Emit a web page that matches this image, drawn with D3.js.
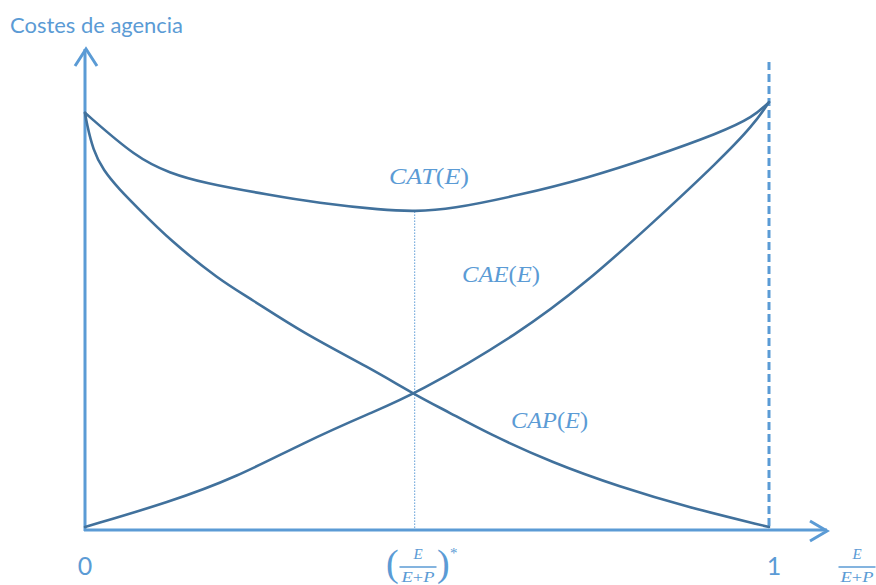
<!DOCTYPE html>
<html><head><meta charset="utf-8">
<script src="https://cdn.jsdelivr.net/npm/d3@7"></script>
<style>html,body{margin:0;padding:0;background:#fff;}svg{display:block;}</style>
</head><body>
<svg id="c" width="876" height="585"></svg>
<script>
// Data (x = E/(E+P), y = cost, arbitrary units 0..100)
const catX = [0, 0.0756, 0.124, 0.1725, 0.270, 0.339, 0.436, 0.482, 0.534, 0.636, 0.734, 0.830, 0.928, 0.977, 1.0];
const catY = [97.0, 86.4, 82.9, 80.6, 77.75, 75.9, 74.2, 73.9, 74.4, 77.75, 81.7, 86.65, 92.3, 96.0, 99.5];
const capX = [0, 0.0024, 0.0117, 0.0263, 0.0512, 0.076, 0.124, 0.197, 0.241, 0.319, 0.417, 0.482, 0.534, 0.588, 0.684, 0.782, 0.880, 1.0];
const capY = [97.0, 94.6, 88.3, 83.6, 78.9, 74.9, 67.2, 57.8, 53.6, 45.4, 37.2, 31.0, 26.7, 22.0, 15.0, 9.4, 4.7, 0];
const caeX = [0, 0.124, 0.222, 0.319, 0.417, 0.482, 0.636, 0.734, 0.830, 0.928, 0.977, 1.0];
const caeY = [0, 5.85, 11.7, 19.7, 26.7, 31.0, 45.4, 57.4, 71.2, 85.9, 94.1, 99.5];
const optimumX = 0.482;
const optimumCAT = 73.9;
const curveNames = ["CAT", "CAE", "CAP"];
const xTickLabels = ["0", "1"];
const yAxisTitle = "Costes de agencia";

const svg = d3.select("#c");
const x = d3.scaleLinear().domain([0, 1]).range([85, 769]);
const y = d3.scaleLinear().domain([0, 100]).range([527, 100]);
const axisColor = "#5b9bd5";
const curveColor = "#41719c";
const mathFont = "'Liberation Serif', 'DejaVu Serif', serif";
const textFont = "Lato, 'Open Sans', sans-serif";

// Axes
svg.append("line").attr("x1", 85).attr("y1", 531).attr("x2", 85).attr("y2", 49)
  .attr("stroke", axisColor).attr("stroke-width", 3);
svg.append("polyline").attr("points", "75,66 86,49 97,66")
  .attr("fill", "none").attr("stroke", axisColor).attr("stroke-width", 3).attr("stroke-linejoin", "miter");
svg.append("line").attr("x1", 84).attr("y1", 530).attr("x2", 827).attr("y2", 530)
  .attr("stroke", axisColor).attr("stroke-width", 3);
svg.append("polyline").attr("points", "810,521 827,531 810,541")
  .attr("fill", "none").attr("stroke", axisColor).attr("stroke-width", 3);

// Dashed vertical at x=1
svg.append("line").attr("x1", x(1)).attr("x2", x(1)).attr("y1", 62).attr("y2", 530)
  .attr("stroke", axisColor).attr("stroke-width", 3).attr("stroke-dasharray", "8,4");

// Dotted optimum line
svg.append("line").attr("x1", x(optimumX)).attr("x2", x(optimumX))
  .attr("y1", y(optimumCAT)).attr("y2", 529)
  .attr("stroke", axisColor).attr("stroke-width", 1).attr("stroke-dasharray", "1.5,1.5");

// Curves
const line = d3.line().x(d => x(d[0])).y(d => y(d[1])).curve(d3.curveBasis);
const series = [d3.zip(catX, catY), d3.zip(caeX, caeY), d3.zip(capX, capY)];
series.forEach(s => {
  svg.append("path").attr("d", line(s)).attr("fill", "none")
    .attr("stroke", curveColor).attr("stroke-width", 2.6).attr("stroke-linecap", "round");
});

// Y axis title
svg.append("text").attr("x", 10).attr("y", 33).text(yAxisTitle)
  .attr("font-family", textFont).attr("font-size", 21).attr("fill", axisColor)
  .attr("textLength", 173).attr("lengthAdjust", "spacingAndGlyphs");

// Tick labels 0 and 1
svg.append("text").attr("x", x(0)).attr("y", 575).attr("text-anchor", "middle").text(xTickLabels[0])
  .attr("font-family", textFont).attr("font-size", 25).attr("fill", axisColor);
svg.append("text").attr("x", 774).attr("y", 575).attr("text-anchor", "middle").text(xTickLabels[1])
  .attr("font-family", textFont).attr("font-size", 25).attr("fill", axisColor);

// Curve labels
function mathLabel(name, lx, ly, w) {
  const t = svg.append("text").attr("x", lx).attr("y", ly)
    .attr("font-family", mathFont).attr("font-size", 23).attr("fill", axisColor)
    .attr("textLength", w).attr("lengthAdjust", "spacingAndGlyphs");
  t.append("tspan").attr("font-style", "italic").text(name);
  t.append("tspan").text("(");
  t.append("tspan").attr("font-style", "italic").text("E");
  t.append("tspan").text(")");
}
mathLabel(curveNames[0], 389, 184, 80);
mathLabel(curveNames[1], 462, 282, 78);
mathLabel(curveNames[2], 511, 428, 77);

// Fraction E/(E+P) helper
function fraction(cx, barY, w, fs) {
  svg.append("text").attr("x", cx).attr("y", barY - 8).attr("text-anchor", "middle")
    .attr("font-family", mathFont).attr("font-style", "italic").attr("font-size", fs)
    .attr("fill", axisColor).text("E");
  svg.append("line").attr("x1", cx - w / 2).attr("x2", cx + w / 2).attr("y1", barY).attr("y2", barY)
    .attr("stroke", axisColor).attr("stroke-width", 1.5);
  const d = svg.append("text").attr("x", cx).attr("y", barY + 15).attr("text-anchor", "middle")
    .attr("font-family", mathFont).attr("font-size", fs).attr("fill", axisColor)
    .attr("textLength", w - 4).attr("lengthAdjust", "spacingAndGlyphs");
  d.append("tspan").attr("font-style", "italic").text("E");
  d.append("tspan").text("+");
  d.append("tspan").attr("font-style", "italic").text("P");
}
// Optimum label
fraction(418, 567, 37, 15);
svg.append("text").attr("x", 386).attr("y", 576).attr("font-family", mathFont)
  .attr("font-size", 38).attr("fill", axisColor).text("(");
svg.append("text").attr("x", 437).attr("y", 576).attr("font-family", mathFont)
  .attr("font-size", 38).attr("fill", axisColor).text(")");
svg.append("text").attr("x", 450).attr("y", 558).attr("font-family", mathFont)
  .attr("font-size", 15).attr("fill", axisColor).text("*");
// X axis title
fraction(857, 567, 37, 15);
</script>
</body></html>
